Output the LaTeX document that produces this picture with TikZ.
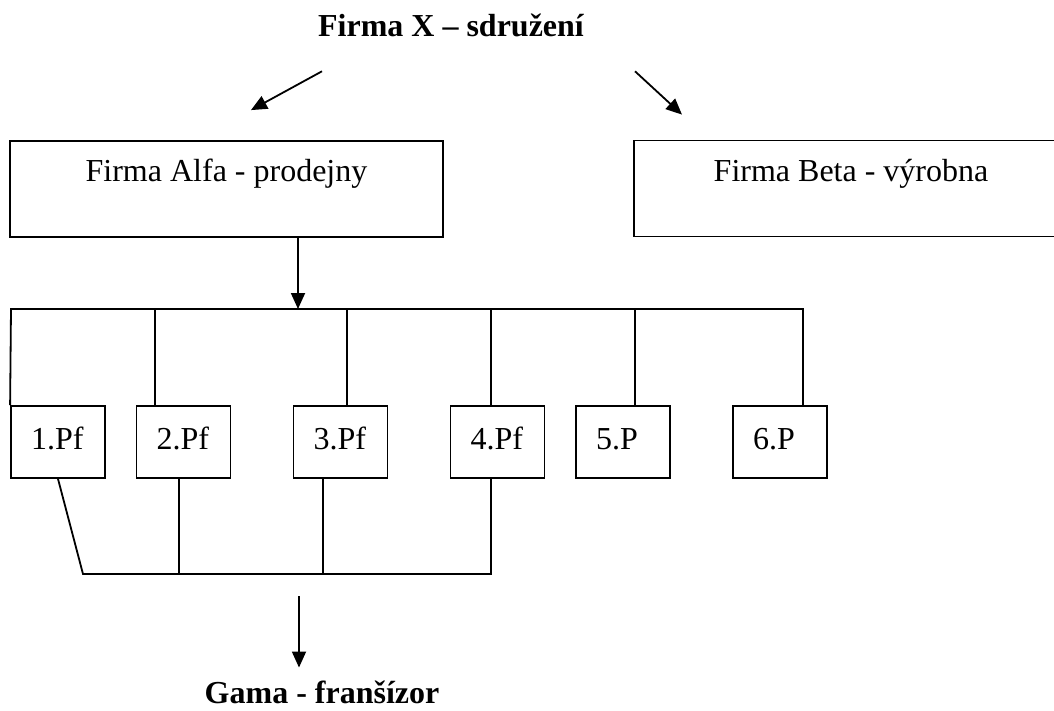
\documentclass[tikz,border=0pt]{standalone}
\usepackage{fontspec}
\setmainfont{Liberation Serif}
\usetikzlibrary{arrows.meta,positioning}

\tikzset{
  firmbox/.style={draw,minimum width=433pt,minimum height=96pt,inner sep=0pt,text height=22pt,text depth=36pt},
  shopbox/.style={draw,text width=54pt,inner xsep=20pt,inner ysep=0pt,minimum height=72pt,align=left,text height=22pt,text depth=8pt},
  heading/.style={font=\fontsize{32pt}{38pt}\selectfont\bfseries,inner sep=0pt,anchor=base}
}

\begin{document}
\begin{tikzpicture}[x=1pt,y=-1pt,>={Triangle[length=16pt,width=14pt]},line width=1.8pt,font=\fontsize{32pt}{38pt}\selectfont]
            \useasboundingbox (0,0) rectangle (1054,711);
            \clip (0,0) rectangle (1054,711);

            \node   [heading]                       (title) at (451,37)    {Firma X – sdružení};
            \node   [firmbox]                       (alfa)  at (226.5,189) {Firma Alfa - prodejny};
            \node   [firmbox,minimum width=434pt]   (beta)  at (851,188.5) {Firma Beta - výrobna};

            \node   [shopbox]   (p1) at (58,442)    {1.Pf};
            \node   [shopbox]   (p2) at (183.5,442) {2.Pf};
            \node   [shopbox]   (p3) at (340.5,442) {3.Pf};
            \node   [shopbox]   (p4) at (497.5,442) {4.Pf};
            \node   [shopbox]   (p5) at (623,442)   {5.P};
            \node   [shopbox]   (p6) at (780,442)   {6.P};

            \node   [heading]   (gama) at (322,703) {Gama - franšízor};

            \coordinate (busL) at (11,309);
            \coordinate (busR) at (803,309);
            \coordinate (lowL) at (83,574);
            \coordinate (lowR) at (491,574);
            \coordinate (gamastart) at (299,596);

            % X splits into Alfa and Beta
            \draw   [->] ([xshift=-129pt,yshift=-33pt]title.south) -- ([xshift=24.5pt,yshift=30pt]alfa.north);
            \draw   [->] ([xshift=184pt,yshift=-33pt]title.south) -- ([xshift=-169pt,yshift=25pt]beta.north);
            \draw   [->] ([xshift=71.5pt]alfa.south) -- ([xshift=71.5pt]alfa.south |- busL);

            % upper bus
            \draw   (p1.north west) -- (busL) -- (busR) -- (p6.north -| busR);
            \draw   ([xshift=-28.5pt]p2.north) -- ([xshift=-28.5pt]p2.north |- busL);
            \draw   ([xshift=6.5pt]p3.north) -- ([xshift=6.5pt]p3.north |- busL);
            \draw   ([xshift=-6.5pt]p4.north) -- ([xshift=-6.5pt]p4.north |- busL);
            \draw   ([xshift=12pt]p5.north) -- ([xshift=12pt]p5.north |- busL);

            % lower bus
            \draw   (p1.south) -- (lowL) -- (lowR) -- (p4.south -| lowR);
            \draw   ([xshift=-4.5pt]p2.south) -- ([xshift=-4.5pt]p2.south |- lowL);
            \draw   ([xshift=-17.5pt]p3.south) -- ([xshift=-17.5pt]p3.south |- lowL);
            \draw   [->,shorten >=12pt] (gamastart) -- (gamastart |- gama.north);
\end{tikzpicture}
\end{document}
